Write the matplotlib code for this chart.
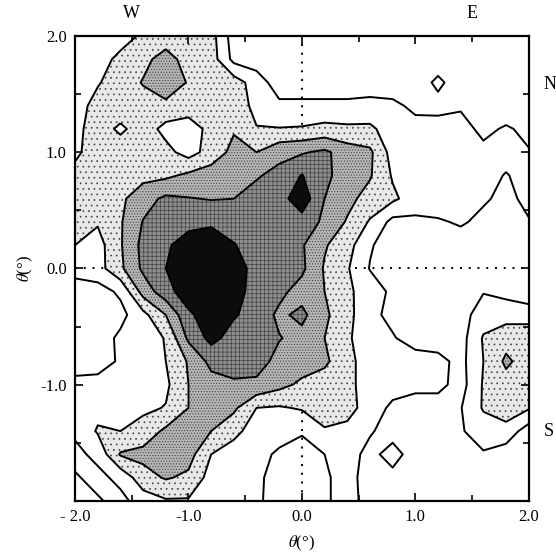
import numpy as np
import matplotlib.pyplot as plt

# grid positions (degrees)
grid_x = [-2.0, -1.8, -1.6, -1.4, -1.2, -1.0, -0.8, -0.6, -0.4, -0.2, 0.0,
          0.2, 0.4, 0.6, 0.8, 1.0, 1.2, 1.4, 1.6, 1.8, 2.0]
grid_y = [2.0, 1.8, 1.6, 1.4, 1.2, 1.0, 0.8, 0.6, 0.4, 0.2, 0.0,
          -0.2, -0.4, -0.6, -0.8, -1.0, -1.2, -1.4, -1.6, -1.8, -2.0]

# intensity, one row per grid_y value (top to bottom)
row_p20 = [1.5, 1.5, 1.5, 2.2, 2.6, 2.6, 2.4, 0.5, 0.5, 0.5, 0.5, 0.5, 0.5, 0.5, 0.5, 0.5, 0.5, 0.5, 0.5, 0.5, 0.5]
row_p18 = [1.5, 1.5, 2.3, 2.8, 3.3, 2.7, 2.5, 0.7, 0.5, 0.5, 0.5, 0.5, 0.5, 0.5, 0.5, 0.5, 0.5, 0.5, 0.5, 0.5, 0.5]
row_p16 = [1.5, 1.9, 2.6, 3.05, 3.8, 2.9, 2.6, 2.5, 1.5, 0.5, 0.5, 0.5, 0.5, 0.5, 0.5, 0.5, 1.2, 0.5, 0.5, 0.5, 0.5]
row_p14 = [1.5, 2.4, 2.6, 2.7, 2.7, 2.5, 2.6, 2.6, 1.7, 1.2, 1.2, 1.2, 1.2, 1.3, 1.2, 0.8, 0.7, 0.9, 0.7, 0.5, 0.5]
row_p12 = [1.7, 2.5, 1.8, 2.5, 1.7, 1.5, 2.3, 2.9, 2.05, 2.05, 2.1, 2.3, 2.2, 2.2, 1.5, 1.3, 1.4, 1.3, 0.8, 1.1, 0.8]
row_p10 = [1.8, 2.5, 2.6, 2.6, 2.3, 1.6, 2.4, 3.3, 3.0, 3.7, 3.9, 4.2, 3.5, 3.2, 1.6, 1.5, 1.5, 1.5, 1.2, 1.3, 1.05]
row_p08 = [2.3, 2.6, 2.6, 2.7, 2.8, 3.2, 3.5, 3.6, 3.9, 4.3, 5.05, 4.2, 3.6, 3.1, 1.9, 1.5, 1.5, 1.5, 1.3, 0.95, 1.3]
row_p06 = [2.3, 2.6, 2.8, 3.6, 4.2, 4.05, 3.95, 4.0, 4.4, 4.6, 5.6, 4.0, 3.3, 2.6, 2.2, 1.5, 1.5, 1.5, 1.1, 0.8, 1.2]
row_p04 = [2.3, 2.1, 2.9, 4.05, 4.5, 4.6, 4.8, 4.6, 4.5, 4.5, 4.6, 3.8, 2.9, 1.9, 0.7, 0.8, 0.9, 1.1, 0.8, 0.7, 0.95]
row_p02 = [2.0, 1.6, 2.9, 4.3, 4.8, 5.6, 5.7, 5.05, 4.6, 4.5, 4.1, 3.1, 2.4, 1.1, 0.5, 0.5, 0.5, 0.6, 0.5, 0.5, 0.5]
row_000 = [1.3, 1.6, 2.8, 4.2, 5.0, 5.8, 5.8, 5.4, 4.7, 4.5, 4.2, 2.9, 2.1, 0.95, 0.5, 0.5, 0.5, 0.5, 0.5, 0.5, 0.5]
row_m02 = [0.6, 0.6, 1.17, 3.4, 4.6, 5.6, 5.8, 5.3, 4.7, 4.25, 3.6, 3.0, 2.2, 1.5, 0.8, 0.5, 0.5, 0.5, 0.95, 0.7, 0.3]
row_m04 = [0.5, 0.5, 0.7, 1.7, 3.0, 4.8, 5.6, 5.1, 4.6, 3.8, 4.25, 3.2, 2.3, 1.3, 0.7, 0.5, 0.5, 0.6, 1.5, 1.6, 1.6]
row_m06 = [0.5, 0.5, 1.2, 1.6, 2.05, 4.2, 5.3, 4.6, 4.5, 4.05, 3.7, 3.0, 2.1, 1.6, 1.1, 0.5, 0.5, 0.6, 2.1, 2.6, 2.6]
row_m08 = [0.5, 0.5, 1.15, 1.6, 2.0, 3.1, 4.3, 4.6, 4.4, 3.7, 3.5, 3.2, 2.3, 1.5, 1.4, 1.5, 1.3, 0.7, 2.0, 3.2, 2.5]
row_m10 = [1.3, 1.4, 1.6, 1.7, 1.8, 3.0, 3.6, 3.8, 3.8, 3.3, 2.8, 2.5, 2.3, 1.5, 1.4, 1.3, 1.3, 0.6, 2.1, 2.6, 2.4]
row_m12 = [1.6, 1.7, 1.6, 1.8, 2.05, 3.0, 3.5, 3.2, 2.0, 1.9, 2.1, 2.5, 2.4, 1.5, 0.8, 0.5, 0.5, 0.95, 2.1, 2.6, 2.1]
row_m14 = [1.2, 2.1, 2.0, 2.4, 3.2, 3.4, 3.0, 2.3, 1.5, 1.5, 1.1, 1.9, 1.7, 1.1, 0.6, 0.5, 0.5, 0.9, 1.5, 1.6, 0.5]
row_m16 = [0.7, 1.3, 3.1, 3.3, 3.5, 3.4, 2.0, 1.5, 1.4, 0.8, 0.6, 1.0, 1.4, 0.7, 1.4, 0.5, 0.5, 0.5, 0.9, 0.5, 0.5]
row_m18 = [1.1, 0.7, 1.3, 2.6, 3.1, 2.8, 1.6, 1.5, 1.2, 0.6, 0.5, 0.85, 1.4, 0.5, 0.7, 0.5, 0.5, 0.5, 0.5, 0.5, 0.5]
row_m20 = [1.5, 1.1, 0.7, 1.5, 1.9, 1.9, 1.6, 1.5, 1.2, 0.5, 0.5, 0.85, 1.4, 0.6, 0.5, 0.5, 0.5, 0.5, 0.5, 0.5, 0.5]

line_levels = [1, 2, 3, 4, 5]
fill_levels = [2, 3, 4, 5, 10]
fill_colors = ['#e8e8e8', '#b6b6b6', '#8e8e8e', '#0c0c0c']
fill_hatches = ['...', '......', '++++', None]

plt.rcParams['font.family'] = ['Liberation Serif', 'DejaVu Serif']
plt.rcParams['mathtext.fontset'] = 'stix'
plt.rcParams['hatch.color'] = '#444444'
plt.rcParams['hatch.linewidth'] = 0.5

z = np.array([row_p20, row_p18, row_p16, row_p14, row_p12, row_p10, row_p08,
              row_p06, row_p04, row_p02, row_000, row_m02, row_m04, row_m06,
              row_m08, row_m10, row_m12, row_m14, row_m16, row_m18, row_m20])
X, Y = np.meshgrid(grid_x, grid_y)

fig = plt.figure(figsize=(5.56, 5.54), dpi=100)
ax = fig.add_axes([0.135, 0.096, 0.816, 0.839])

# dotted zero lines sit under the shading
ax.axhline(0, color='black', lw=1.4, ls=(0, (1, 3.5)), zorder=0)
ax.axvline(0, color='black', lw=1.4, ls=(0, (1, 3.5)), zorder=0)

ax.contourf(X, Y, z, levels=fill_levels, colors=fill_colors,
            hatches=fill_hatches, zorder=1)
ax.contour(X, Y, z, levels=line_levels, colors='black', linewidths=1.4, zorder=2)

ax.set_xlim(-2, 2)
ax.set_ylim(-2, 2)
ax.set_xticks([-2, -1, 0, 1, 2])
ax.set_xticklabels(['- 2.0', '-1.0', '0.0', '1.0', '2.0'])
ax.set_yticks([-2, -1, 0, 1, 2])
ax.set_yticklabels(['', '-1.0', '0.0', '1.0', '2.0'])
ax.set_xticks([-1.5, -0.5, 0.5, 1.5], minor=True)
ax.set_yticks([-1.5, -0.5, 0.5, 1.5], minor=True)
ax.tick_params(which='both', direction='in', top=True, right=True, width=1.2,
               labelsize=12, pad=6)
ax.tick_params(which='major', length=6)
ax.tick_params(which='minor', length=4)
for s in ax.spines.values():
    s.set_linewidth(1.6)

ax.set_xlabel(r'$\theta$(°)', fontsize=12, labelpad=6)
ax.set_ylabel(r'$\theta$(°)', fontsize=12, labelpad=4)

ax.text(-1.5, 2.19, 'W', ha='center', va='center', fontsize=13)
ax.text(1.5, 2.19, 'E', ha='center', va='center', fontsize=13)
ax.text(2.13, 1.58, 'N', ha='left', va='center', fontsize=13)
ax.text(2.13, -1.40, 'S', ha='left', va='center', fontsize=13)

fig.savefig('out.png', dpi=100)
